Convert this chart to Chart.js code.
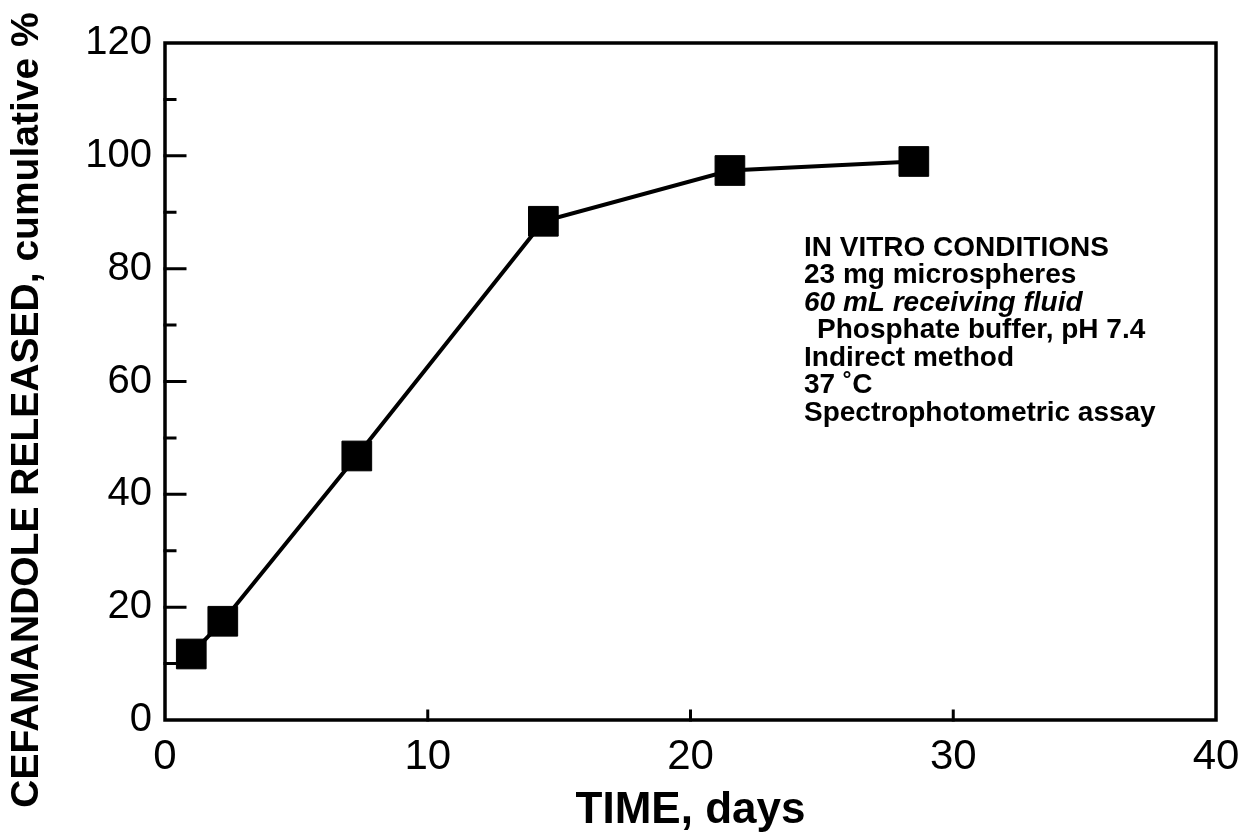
<!DOCTYPE html>
<html>
<head>
<meta charset="utf-8">
<script src="https://cdn.jsdelivr.net/npm/chart.js@4.4.1/dist/chart.umd.min.js"></script>
<style>
  html, body { margin: 0; padding: 0; background: #fff; }
  #wrap { width: 1243px; height: 839px; position: relative; }
  canvas { display: block; }
</style>
</head>
<body>
<div id="wrap"><canvas id="c" width="1243" height="839"></canvas></div>
<script>
// Cumulative cefamandole release from microspheres
const days = [1.0, 2.2, 7.3, 14.4, 21.5, 28.5];
const released = [11.7, 17.5, 46.8, 88.4, 97.4, 99.0];

// Axis tick values
const xTickValues = [0, 10, 20, 30, 40];
const xMinorValues = [10, 20, 30];
const yTickValues = [0, 20, 40, 60, 80, 100, 120];
const yMinorValues = [10, 30, 50, 70, 90, 110];

const xAxisTitle = 'TIME, days';
const yAxisTitle = 'CEFAMANDOLE RELEASED, cumulative %';

// Experimental conditions block
const conditionLines = [
  { text: 'IN VITRO CONDITIONS', indent: 0, italic: false },
  { text: '23 mg microspheres', indent: 0, italic: false },
  { text: '60 mL receiving fluid', indent: 0, italic: true },
  { text: 'Phosphate buffer, pH 7.4', indent: 13, italic: false },
  { text: 'Indirect method', indent: 0, italic: false },
  { text: '37 \u02DAC', indent: 0, italic: false },
  { text: 'Spectrophotometric assay', indent: 0, italic: false }
];

const FONT = '"Liberation Sans", Arial, Helvetica, sans-serif';

// Frame around the plot with inward tick marks
const framePlugin = {
  id: 'frame',
  beforeDatasetsDraw(chart) {
    const { ctx, chartArea: a, scales } = chart;
    ctx.save();
    ctx.strokeStyle = '#000';
    ctx.lineCap = 'square';
    ctx.lineWidth = 3.5;
    ctx.strokeRect(a.left, a.top, a.right - a.left, a.bottom - a.top);
    ctx.lineWidth = 3;
    ctx.beginPath();
    yTickValues.forEach(v => {
      if (v === 0 || v === 120) return;
      const y = scales.y.getPixelForValue(v);
      ctx.moveTo(a.left, y); ctx.lineTo(a.left + 20, y);
    });
    yMinorValues.forEach(v => {
      const y = scales.y.getPixelForValue(v);
      ctx.moveTo(a.left, y); ctx.lineTo(a.left + 10, y);
    });
    xMinorValues.forEach(v => {
      const x = scales.x.getPixelForValue(v);
      ctx.moveTo(x, a.bottom); ctx.lineTo(x, a.bottom - 9);
    });
    ctx.stroke();
    ctx.restore();
  }
};

// Rotated y title and the conditions text
const textPlugin = {
  id: 'texts',
  afterDraw(chart) {
    const { ctx } = chart;
    ctx.save();
    ctx.fillStyle = '#000';
    ctx.translate(27, 410);
    ctx.rotate(-Math.PI / 2);
    ctx.font = 'bold 39px ' + FONT;
    ctx.textAlign = 'center';
    ctx.textBaseline = 'middle';
    ctx.fillText(yAxisTitle, 0, 0);
    ctx.restore();

    ctx.save();
    ctx.fillStyle = '#000';
    ctx.textAlign = 'left';
    ctx.textBaseline = 'middle';
    conditionLines.forEach((ln, i) => {
      ctx.font = (ln.italic ? 'italic ' : '') + 'bold 28px ' + FONT;
      ctx.fillText(ln.text, 804 + ln.indent, 248 + i * 27.5);
    });
    ctx.restore();
  }
};

new Chart(document.getElementById('c'), {
  type: 'scatter',
  data: {
    datasets: [{
      data: days.map((d, i) => ({ x: d, y: released[i] })),
      showLine: true,
      borderColor: '#000',
      borderWidth: 4,
      backgroundColor: '#000',
      pointStyle: 'rect',
      pointRadius: 21,
      pointHoverRadius: 21,
      pointBorderWidth: 1,
      pointBackgroundColor: '#000',
      pointBorderColor: '#000',
      tension: 0,
      clip: false
    }]
  },
  options: {
    responsive: false,
    animation: false,
    devicePixelRatio: 1,
    layout: { padding: { left: 0, top: 43, right: 27, bottom: 0 } },
    plugins: { legend: { display: false }, tooltip: { enabled: false } },
    scales: {
      x: {
        type: 'linear',
        min: 0, max: 40,
        afterFit(s) { s.height = 119; s.paddingLeft = 0; s.paddingRight = 0; },
        afterBuildTicks(s) { s.ticks = xTickValues.map(v => ({ value: v })); },
        grid: { display: false, drawTicks: false },
        border: { display: false },
        ticks: {
          color: '#000',
          font: { family: FONT, size: 42 },
          padding: 12,
          maxRotation: 0,
          autoSkip: false
        },
        title: {
          display: true,
          text: xAxisTitle,
          color: '#000',
          font: { family: FONT, size: 44, weight: 'bold', lineHeight: 1.0 },
          padding: { top: 0, bottom: 6 }
        }
      },
      y: {
        type: 'linear',
        min: 0, max: 120,
        afterFit(s) { s.width = 165; s.paddingTop = 0; s.paddingBottom = 0; },
        afterBuildTicks(s) { s.ticks = yTickValues.map(v => ({ value: v })); },
        grid: { display: false, drawTicks: false },
        border: { display: false },
        ticks: {
          color: '#000',
          font: { family: FONT, size: 40 },
          padding: 13,
          autoSkip: false
        }
      }
    }
  },
  plugins: [framePlugin, textPlugin]
});
</script>
</body>
</html>
